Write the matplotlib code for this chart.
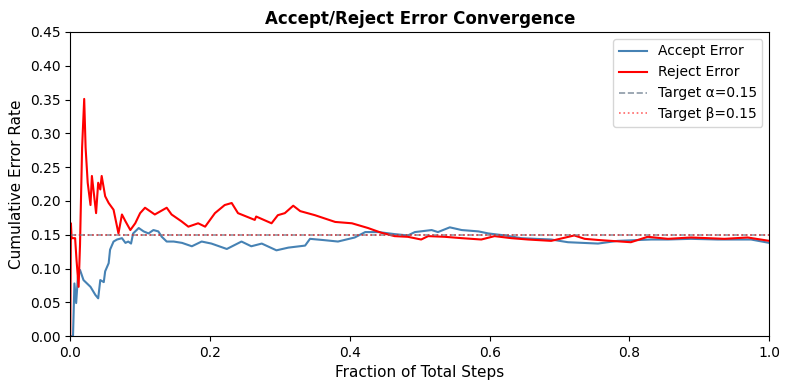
import matplotlib.pyplot as plt

# Cumulative error rates
accept_x = [0.0, 0.004, 0.006, 0.0085, 0.011, 0.014, 0.019, 0.029, 0.036, 0.040, 0.043, 0.048,
            0.050, 0.055, 0.057, 0.062, 0.067, 0.074, 0.079, 0.083, 0.087, 0.090, 0.098,
            0.105, 0.112, 0.119, 0.126, 0.131, 0.138, 0.148, 0.160, 0.174, 0.188, 0.202,
            0.224, 0.245, 0.259, 0.274, 0.295, 0.312, 0.336, 0.343, 0.364, 0.383, 0.407,
            0.422, 0.441, 0.464, 0.483, 0.493, 0.517, 0.526, 0.543, 0.560, 0.584, 0.598,
            0.622, 0.645, 0.665, 0.688, 0.712, 0.755, 0.783, 0.831, 0.855, 0.888, 0.926,
            0.974, 1.0]
accept_err = [0.0, 0.0, 0.078, 0.049, 0.088, 0.098, 0.083, 0.073, 0.061, 0.056, 0.083, 0.080,
              0.096, 0.108, 0.128, 0.140, 0.143, 0.145, 0.138, 0.140, 0.137, 0.152, 0.160,
              0.155, 0.152, 0.157, 0.155, 0.147, 0.140, 0.140, 0.138, 0.133, 0.140, 0.137,
              0.129, 0.140, 0.133, 0.137, 0.127, 0.131, 0.134, 0.144, 0.142, 0.140, 0.146,
              0.154, 0.154, 0.151, 0.149, 0.154, 0.157, 0.154, 0.161, 0.157, 0.155, 0.152,
              0.149, 0.145, 0.144, 0.143, 0.139, 0.137, 0.141, 0.143, 0.143, 0.144, 0.143,
              0.143, 0.138]

reject_x = [0.0, 0.001, 0.002, 0.007, 0.009, 0.012, 0.014, 0.017, 0.020, 0.022, 0.025, 0.029,
            0.031, 0.037, 0.040, 0.043, 0.045, 0.050, 0.055, 0.062, 0.069, 0.074, 0.079,
            0.086, 0.093, 0.100, 0.107, 0.121, 0.138, 0.145, 0.159, 0.169, 0.183, 0.193,
            0.207, 0.221, 0.231, 0.240, 0.264, 0.266, 0.288, 0.297, 0.307, 0.319, 0.329,
            0.350, 0.379, 0.403, 0.426, 0.445, 0.464, 0.483, 0.502, 0.512, 0.536, 0.560,
            0.588, 0.607, 0.631, 0.655, 0.688, 0.721, 0.736, 0.759, 0.802, 0.826, 0.855,
            0.888, 0.936, 0.969, 1.0]
reject_err = [0.0, 0.167, 0.145, 0.145, 0.113, 0.073, 0.135, 0.279, 0.351, 0.279, 0.227, 0.194,
              0.237, 0.182, 0.227, 0.217, 0.237, 0.207, 0.197, 0.187, 0.152, 0.180, 0.170,
              0.157, 0.167, 0.182, 0.190, 0.180, 0.190, 0.180, 0.170, 0.162, 0.167, 0.162,
              0.182, 0.194, 0.197, 0.182, 0.172, 0.177, 0.167, 0.179, 0.182, 0.193, 0.185,
              0.179, 0.169, 0.167, 0.160, 0.153, 0.148, 0.147, 0.143, 0.148, 0.147, 0.145,
              0.143, 0.148, 0.145, 0.143, 0.141, 0.149, 0.144, 0.142, 0.139, 0.147, 0.144,
              0.146, 0.144, 0.146, 0.141]

alpha_target = 0.15
beta_target = 0.15

fig, ax = plt.subplots(figsize=(7.89, 3.9), dpi=100)

ax.plot(accept_x, accept_err, color='steelblue', lw=1.5, label='Accept Error')
ax.plot(reject_x, reject_err, color='red', lw=1.5, label='Reject Error')
ax.axhline(alpha_target, color='slategray', ls='--', lw=1.2, alpha=0.8, label='Target α=0.15')
ax.axhline(beta_target, color='red', ls=':', lw=1.2, alpha=0.6, label='Target β=0.15')

ax.set_xlim(0, 1)
ax.set_ylim(0, 0.45)
ax.set_xlabel('Fraction of Total Steps', fontsize=11)
ax.set_ylabel('Cumulative Error Rate', fontsize=11)
ax.set_title('Accept/Reject Error Convergence', fontsize=12, fontweight='bold')
ax.legend(loc='upper right', fontsize=10)

plt.subplots_adjust(left=0.089, right=0.975, top=0.918, bottom=0.138)
plt.savefig('out.png')
